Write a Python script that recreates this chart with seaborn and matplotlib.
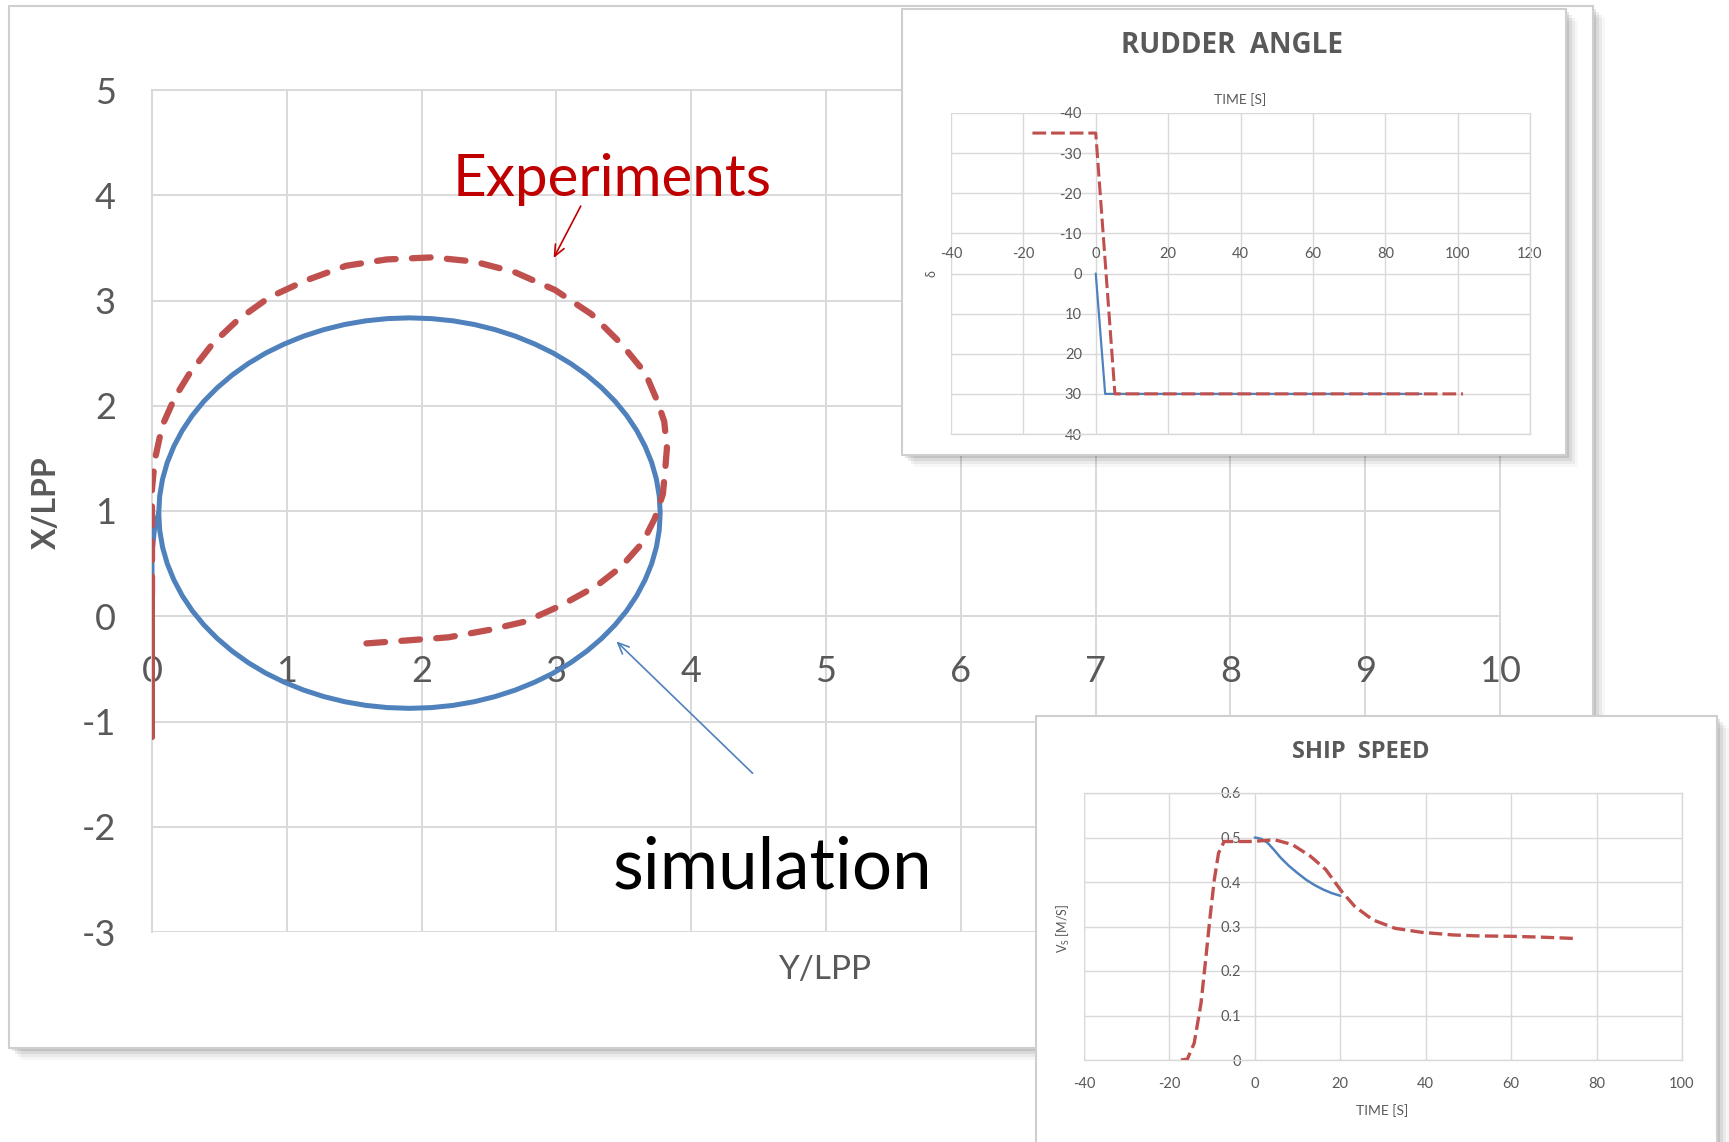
import matplotlib
matplotlib.use("Agg")
import matplotlib.pyplot as plt
import seaborn as sns
import pandas as pd
from matplotlib.patches import Rectangle

# ---------------- data ----------------
# main trajectory: horizontal axis = Y/LPP, vertical axis = X/LPP
sim_ylpp = [0, 0, 0.02,
            0.05, 0.057, 0.078, 0.113, 0.162, 0.224, 0.299, 0.386, 0.485, 0.595, 0.714, 0.843,
            0.98, 1.124, 1.274, 1.429, 1.587, 1.748, 1.91, 2.072, 2.233, 2.391, 2.546, 2.696,
            2.84, 2.977, 3.106, 3.225, 3.335, 3.434, 3.521, 3.596, 3.658, 3.707, 3.742, 3.763,
            3.77, 3.763, 3.742, 3.707, 3.658, 3.596, 3.521, 3.434, 3.335, 3.225, 3.106, 2.977,
            2.84, 2.696, 2.546, 2.391, 2.233, 2.072, 1.91, 1.748, 1.587, 1.429, 1.274, 1.124,
            0.98, 0.843, 0.714, 0.595, 0.485, 0.386, 0.299, 0.224, 0.162, 0.113, 0.078, 0.057,
            0.05]
sim_xlpp = [-1.10, 0.60, 0.85,
            0.98, 1.142, 1.302, 1.46, 1.614, 1.764, 1.908, 2.044, 2.172, 2.292, 2.401, 2.50,
            2.586, 2.661, 2.723, 2.772, 2.807, 2.828, 2.835, 2.828, 2.807, 2.772, 2.723, 2.661,
            2.586, 2.50, 2.401, 2.292, 2.172, 2.044, 1.908, 1.764, 1.614, 1.46, 1.302, 1.142,
            0.98, 0.818, 0.658, 0.50, 0.346, 0.196, 0.052, -0.084, -0.212, -0.332, -0.441, -0.54,
            -0.626, -0.701, -0.763, -0.812, -0.847, -0.868, -0.875, -0.868, -0.847, -0.812, -0.763, -0.701,
            -0.626, -0.54, -0.441, -0.332, -0.212, -0.084, 0.052, 0.196, 0.346, 0.50, 0.658, 0.818,
            0.98]

exp_ylpp = [0, 0, 0.02, 0.076, 0.17, 0.28, 0.45, 0.64, 0.87, 1.14, 1.44, 1.74, 2.08,
            2.39, 2.69, 2.99, 3.26, 3.48, 3.66, 3.75, 3.80, 3.82, 3.81, 3.79, 3.73, 3.64,
            3.48, 3.30, 3.03, 2.77, 2.50, 2.20, 1.89, 1.57]
exp_xlpp = [0.20, 1.21, 1.48, 1.81, 2.08, 2.31, 2.59, 2.82, 3.03, 3.19, 3.33, 3.39, 3.41,
            3.37, 3.27, 3.10, 2.87, 2.59, 2.31, 2.04, 1.85, 1.60, 1.44, 1.16, 0.93, 0.70,
            0.47, 0.29, 0.10, -0.05, -0.13, -0.20, -0.23, -0.26]
exp_approach_ylpp = [0, 0]
exp_approach_xlpp = [-1.15, 0.20]

main_xticks = [0, 1, 2, 3, 4, 5, 6, 7, 8, 9, 10]
main_yticks = [-3, -2, -1, 0, 1, 2, 3, 4, 5]

# rudder angle inset
rud_sim_t = [0, 2.6, 90]
rud_sim_d = [0, 30, 30]
rud_exp_t = [-17.5, 0, 5.3, 101.5]
rud_exp_d = [-35, -35, 30, 30]
rud_xticks = [-40, -20, 0, 20, 40, 60, 80, 100, 120]
rud_yticks = [-40, -30, -20, -10, 0, 10, 20, 30, 40]

# ship speed inset
spd_sim_t = [0, 1.5, 3.0, 4.5, 6.0, 8.0, 10.0, 12.0, 14.0, 16.0, 18.0, 20.0]
spd_sim_v = [0.5, 0.497, 0.488, 0.472, 0.455, 0.436, 0.42, 0.405, 0.393, 0.383, 0.375, 0.369]
spd_exp_t = [-17.3, -15.8, -14.2, -12.6, -11.6, -10.5, -9.5, -8.5, -7.2, -4.8, -0.6,
             4.6, 8.8, 13.0, 16.6, 20.3, 23.4, 27.6, 32.8, 39.0, 46.4, 51.6, 60.0,
             67.3, 75.1]
spd_exp_v = [0, 0.002, 0.038, 0.128, 0.218, 0.32, 0.405, 0.465, 0.491, 0.491, 0.491,
             0.495, 0.484, 0.458, 0.428, 0.379, 0.345, 0.315, 0.296, 0.287, 0.281,
             0.279, 0.278, 0.276, 0.273]
spd_xticks = [-40, -20, 0, 20, 40, 60, 80, 100]
spd_yticks = [0, 0.1, 0.2, 0.3, 0.4, 0.5, 0.6]
spd_yticklabels = ["0", "0.1", "0.2", "0.3", "0.4", "0.5", "0.6"]

# ---------------- style ----------------
sns.set_style("white")
plt.rcParams["font.family"] = ["Lato", "DejaVu Sans"]

BLUE = "#4F81BD"
RED = "#C0504D"
GRID = "#D9D9D9"
TXT = "#595959"

W, H = 1729, 1142
fig = plt.figure(figsize=(W / 100, H / 100), dpi=100)
fig.patch.set_facecolor("white")


def panel(x0, y0, x1, y1, z):
    for k, a in [(12, 0.03), (9, 0.05), (6, 0.07), (3, 0.10)]:
        fig.add_artist(Rectangle(((x0 + k) / W, 1 - (y1 + k) / H), (x1 - x0) / W, (y1 - y0) / H,
                                 transform=fig.transFigure, facecolor="black", alpha=a,
                                 edgecolor="none", zorder=z))
    fig.add_artist(Rectangle((x0 / W, 1 - y1 / H), (x1 - x0) / W, (y1 - y0) / H,
                             transform=fig.transFigure, facecolor="white",
                             edgecolor="#CFCFCF", lw=1.5, zorder=z + 0.1))


def axes_px(x0, y0, x1, y1):
    return [x0 / W, 1 - y1 / H, (x1 - x0) / W, (y1 - y0) / H]


# ---------------- main trajectory chart ----------------
panel(9, 6, 1593, 1048, -5)
ax = fig.add_axes(axes_px(152, 90, 1500, 932))
ax.set_zorder(0)
ax.patch.set_alpha(0)

df_exp0 = pd.DataFrame({"Y": exp_approach_ylpp, "X": exp_approach_xlpp})
df_sim = pd.DataFrame({"Y": sim_ylpp, "X": sim_xlpp})
df_exp = pd.DataFrame({"Y": exp_ylpp, "X": exp_xlpp})
sns.lineplot(data=df_sim, x="Y", y="X", sort=False, estimator=None, ax=ax,
             color=BLUE, lw=3.6, solid_capstyle="round", solid_joinstyle="round", zorder=3)
sns.lineplot(data=df_exp0, x="Y", y="X", sort=False, estimator=None, ax=ax,
             color=RED, lw=3.6, zorder=4)
sns.lineplot(data=df_exp, x="Y", y="X", sort=False, estimator=None, ax=ax,
             color=RED, lw=4.5, linestyle=(0, (3.0, 2.6)), dash_capstyle="round",
             dash_joinstyle="round", zorder=4)

ax.set_xlim(0, 10)
ax.set_ylim(-3, 5)
ax.set_xticks(main_xticks)
ax.set_yticks(main_yticks)
ax.set_xticklabels([str(v) for v in main_xticks])
ax.set_yticklabels([str(v) for v in main_yticks])
ax.grid(True, color=GRID, lw=1.4)
for s in ax.spines.values():
    s.set_color(GRID)
    s.set_linewidth(1.4)
ax.spines["bottom"].set_position(("data", 0))
ax.tick_params(axis="both", length=0, labelsize=26, labelcolor=TXT)
ax.tick_params(axis="x", pad=28)
ax.tick_params(axis="y", pad=26)
ax.set_xlabel("Y/LPP", fontsize=24, color=TXT)
ax.xaxis.set_label_coords((825 - 152) / 1348, -(955 - 932) / 842)
ax.set_ylabel("X/LPP", fontsize=23, color=TXT, fontweight="bold")
ax.yaxis.set_label_coords((60.5 - 152) / 1348, 0.51)

ax.annotate("", xy=(2.97, 3.38), xytext=(3.19, 3.92),
            arrowprops=dict(arrowstyle="->,head_length=0.8,head_width=0.35", color="#C00000", lw=1.2))
ax.text(3.41, 4.15, "Experiments", color="#C00000", fontsize=42, ha="center", va="center")
ax.annotate("", xy=(3.43, -0.22), xytext=(4.47, -1.51),
            arrowprops=dict(arrowstyle="->,head_length=0.8,head_width=0.35", color=BLUE, lw=1.2))
ax.text(4.6, -2.39, "simulation", color="black", fontsize=51, ha="center", va="center")

# ---------------- rudder angle inset ----------------
panel(902, 9, 1566, 455, 1)
ax1 = fig.add_axes(axes_px(951, 113, 1530, 434))
ax1.set_zorder(2)
ax1.set_facecolor("white")
sns.lineplot(x=rud_sim_t, y=rud_sim_d, sort=False, estimator=None, ax=ax1,
             color=BLUE, lw=1.6, zorder=3)
sns.lineplot(x=rud_exp_t, y=rud_exp_d, sort=False, estimator=None, ax=ax1,
             color=RED, lw=2.2, linestyle=(0, (4.5, 1.6)), zorder=4)
ax1.set_xlim(-40, 120)
ax1.set_ylim(40, -40)
ax1.set_xticks(rud_xticks)
ax1.set_yticks(rud_yticks)
ax1.set_xticklabels([str(v) for v in rud_xticks])
ax1.set_yticklabels([str(v) for v in rud_yticks])
ax1.grid(True, color=GRID, lw=1.0)
for s in ax1.spines.values():
    s.set_color(GRID)
    s.set_linewidth(1.0)
ax1.spines["top"].set_position(("data", 0))
ax1.spines["top"].set_visible(False)
ax1.spines["left"].set_position(("data", 0))
ax1.spines["left"].set_visible(False)
ax1.xaxis.set_ticks_position("top")
ax1.tick_params(axis="both", length=0, labelsize=10.5, labelcolor=TXT)
ax1.tick_params(axis="x", pad=9)
ax1.tick_params(axis="y", pad=10)
ax1.xaxis.set_label_position("top")
ax1.set_xlabel("TIME [S]", fontsize=10, color=TXT)
ax1.xaxis.set_label_coords(0.499, 1.027)
ax1.set_ylabel("δ", fontsize=9, color=TXT)
ax1.yaxis.set_label_coords(-0.0225, 0.5)
ax1.text(0.485, 1.209, "RUDDER  ANGLE", transform=ax1.transAxes, ha="center", va="center",
         fontsize=20, fontweight="bold", color=TXT, family=["Open Sans", "DejaVu Sans"])

# ---------------- ship speed inset ----------------
panel(1036, 716, 1717, 1160, 1)
ax2 = fig.add_axes(axes_px(1084, 793, 1682, 1060))
ax2.set_zorder(2)
ax2.set_facecolor("white")
sns.lineplot(x=spd_sim_t, y=spd_sim_v, sort=False, estimator=None, ax=ax2,
             color=BLUE, lw=1.8, zorder=3)
sns.lineplot(x=spd_exp_t, y=spd_exp_v, sort=False, estimator=None, ax=ax2,
             color=RED, lw=2.4, linestyle=(0, (4.0, 1.6)), zorder=4)
ax2.set_xlim(-40, 100)
ax2.set_ylim(0, 0.6)
ax2.set_xticks(spd_xticks)
ax2.set_yticks(spd_yticks)
ax2.set_xticklabels([str(v) for v in spd_xticks])
ax2.set_yticklabels(spd_yticklabels)
ax2.grid(True, color=GRID, lw=1.0)
for s in ax2.spines.values():
    s.set_color(GRID)
    s.set_linewidth(1.0)
ax2.spines["left"].set_position(("data", 0))
ax2.spines["left"].set_visible(False)
ax2.axvline(-40, color=GRID, lw=1.0)
ax2.tick_params(axis="both", length=0, labelsize=10.5, labelcolor=TXT)
ax2.tick_params(axis="x", pad=12)
ax2.tick_params(axis="y", pad=10)
ax2.set_xlabel("TIME [S]", fontsize=10, color=TXT)
ax2.xaxis.set_label_coords(0.498, -0.166)
ax2.set_ylabel("V$_\\mathregular{S}$ [M/S]", fontsize=9, color=TXT)
ax2.yaxis.set_label_coords(-0.02, 0.494)
ax2.text(0.463, 1.1536, "SHIP  SPEED", transform=ax2.transAxes, ha="center", va="center",
         fontsize=17, fontweight="bold", color=TXT, family=["Open Sans", "DejaVu Sans"])

fig.savefig("out.png", dpi=100, facecolor="white")
